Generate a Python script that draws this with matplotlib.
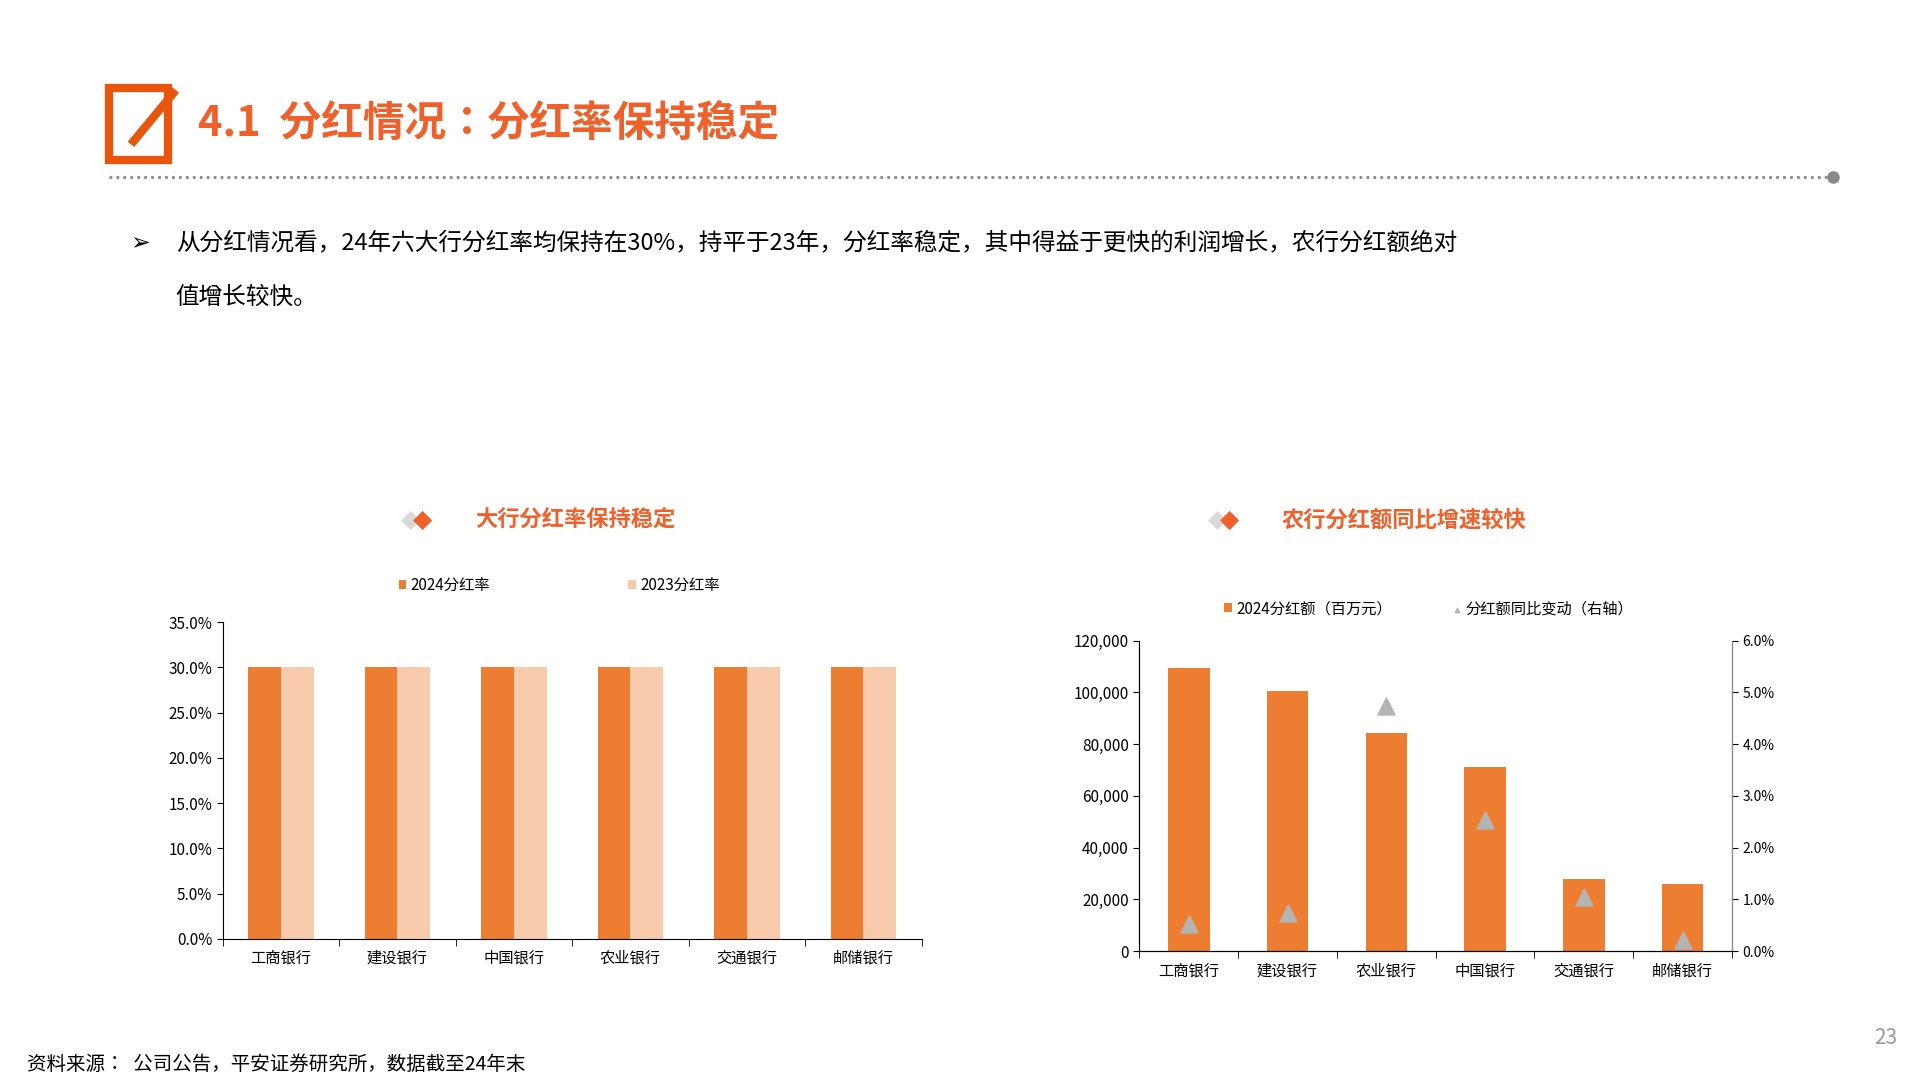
import matplotlib
matplotlib.use("Agg")
import matplotlib.pyplot as plt
from matplotlib import font_manager
from matplotlib.patches import Rectangle
from matplotlib.ticker import FuncFormatter
import numpy as np

cjk = [f.name for f in font_manager.fontManager.ttflist if 'CJK' in f.name]
cjk_name = next((n for n in cjk if 'SC' in n), cjk[0] if cjk else 'DejaVu Sans')
plt.rcParams['font.family'] = 'sans-serif'
plt.rcParams['font.sans-serif'] = [cjk_name, 'DejaVu Sans']
plt.rcParams['axes.unicode_minus'] = False

banks_left = ["工商银行", "建设银行", "中国银行", "农业银行", "交通银行", "邮储银行"]
payout_2024 = [30.0, 30.0, 30.0, 30.0, 30.0, 30.0]
payout_2023 = [30.0, 30.0, 30.0, 30.0, 30.0, 30.0]

banks_right = ["工商银行", "建设银行", "农业银行", "中国银行", "交通银行", "邮储银行"]
dividend_2024 = [109600, 100600, 84400, 71200, 28000, 26100]
dividend_yoy = [0.52, 0.73, 4.74, 2.54, 1.04, 0.21]

ORANGE = "#ED7D31"
LIGHT = "#F8CBAD"
TITLE = "#F0602A"
W, H = 1552, 880

fig = plt.figure(figsize=(19.2, 10.8), dpi=100, facecolor='white')


def ax_px(x0, y0, x1, y1):
    # pixel box in reference coords -> figure axes
    return fig.add_axes([x0 / W, 1 - y1 / H, (x1 - x0) / W, (y1 - y0) / H])


def fx(x):
    return x / W


def fy(y):
    return 1 - y / H


# header
fig.patches.append(Rectangle((fx(88), fy(130)), fx(48), 58 / H, fill=False,
                             edgecolor="#E8560E", linewidth=6, transform=fig.transFigure))
fig.add_artist(plt.Line2D([fx(108), fx(140)], [fy(115), fy(76)], color="#E8560E",
                          linewidth=6, transform=fig.transFigure))
fig.text(fx(160), fy(101), "4.1  分红情况：分红率保持稳定", color=TITLE, fontsize=30,
         fontweight='bold', va='center')
fig.add_artist(plt.Line2D([fx(88), fx(1480)], [fy(144), fy(144)], color="#888888",
                          linestyle=(0, (1, 1.5)), linewidth=2, transform=fig.transFigure))
fig.add_artist(plt.Line2D([fx(1482)], [fy(144)], marker='o', color="#888888",
                          markersize=8, transform=fig.transFigure))
fig.text(fx(105), fy(198), "➢", fontsize=17, va='center', family='DejaVu Sans')
fig.text(fx(142), fy(198), "从分红情况看，24年六大行分红率均保持在30%，持平于23年，分红率稳定，其中得益于更快的利润增长，农行分红额绝对",
         fontsize=17, va='center')
fig.text(fx(142), fy(242), "值增长较快。", fontsize=17, va='center')

# chart titles with small diamond icons
for cx, text in [(330, "大行分红率保持稳定"), (982, "农行分红额同比增速较快")]:
    fig.text(fx(cx - 6), fy(424), "◆", color="#D9D9D9", fontsize=18, va='center', family='DejaVu Sans')
    fig.text(fx(cx + 4), fy(424), "◆", color=TITLE, fontsize=18, va='center', family='DejaVu Sans')
    fig.text(fx(cx + 54), fy(424), text, color=TITLE, fontsize=16, fontweight='bold', va='center')

# left chart
ax1 = ax_px(180, 507, 745, 765)
x = np.arange(len(banks_left))
bw = 0.28
b1 = ax1.bar(x - bw / 2, payout_2024, bw, color=ORANGE)
b2 = ax1.bar(x + bw / 2, payout_2023, bw, color=LIGHT)
ax1.set_ylim(0, 35)
ax1.set_yticks(np.arange(0, 35.1, 5))
ax1.yaxis.set_major_formatter(FuncFormatter(lambda v, p: f"{v:.1f}%"))
ax1.set_xlim(-0.5, len(banks_left) - 0.5)
ax1.set_xticks(x)
ax1.set_xticklabels(banks_left)
ax1.set_xticks(np.arange(-0.5, len(banks_left), 1), minor=True)
ax1.tick_params(axis='x', which='major', length=0, pad=8, labelsize=11)
ax1.tick_params(axis='x', which='minor', length=5, direction='out')
ax1.tick_params(axis='y', labelsize=11, direction='out', length=4)
for s in ['top', 'right']:
    ax1.spines[s].set_visible(False)
fig.legend(handles=[b1, b2], labels=["2024分红率", "2023分红率"],
           loc='center', bbox_to_anchor=(fx(452), fy(477)), ncol=2, frameon=False,
           fontsize=11, handlelength=0.5, handleheight=0.5, handletextpad=0.3, columnspacing=9)

# right chart
ax2 = ax_px(921, 522, 1400, 775)
x2 = np.arange(len(banks_right))
bars = ax2.bar(x2, dividend_2024, 0.42, color=ORANGE)
ax2.set_ylim(0, 120000)
ax2.set_yticks(np.arange(0, 120001, 20000))
ax2.yaxis.set_major_formatter(FuncFormatter(lambda v, p: f"{v:,.0f}"))
ax2.set_xlim(-0.5, len(banks_right) - 0.5)
ax2.set_xticks(x2)
ax2.set_xticklabels(banks_right)
ax2.set_xticks(np.arange(-0.5, len(banks_right), 1), minor=True)
ax2.tick_params(axis='x', which='major', length=0, pad=8, labelsize=11)
ax2.tick_params(axis='x', which='minor', length=5, direction='out')
ax2.tick_params(axis='y', labelsize=11, length=4)
ax2.spines['top'].set_visible(False)
ax3 = ax2.twinx()
tri = ax3.scatter(x2, dividend_yoy, marker='^', s=150, color="#B4B4B4", zorder=3)
ax3.set_ylim(0, 6)
ax3.set_yticks(np.arange(0, 6.01, 1))
ax3.yaxis.set_major_formatter(FuncFormatter(lambda v, p: f"{v:.1f}%"))
ax3.tick_params(axis='y', labelsize=10, length=4)
ax3.spines['top'].set_visible(False)
ax3.spines['right'].set_color('#888888')
fig.legend(handles=[bars, tri], labels=["2024分红额（百万元）", "分红额同比变动（右轴）"],
           loc='center', bbox_to_anchor=(fx(1155), fy(496)), ncol=2, frameon=False,
           fontsize=11, handlelength=0.5, handleheight=0.5, handletextpad=0.3,
           columnspacing=4, markerscale=0.25)

fig.text(fx(22), fy(867), "资料来源：  公司公告，平安证券研究所，数据截至24年末", fontsize=14, va='center')
fig.text(fx(1534), fy(846), "23", fontsize=15, color="#999999", ha='right', va='center')

fig.savefig("out.png", dpi=100, facecolor='white')
